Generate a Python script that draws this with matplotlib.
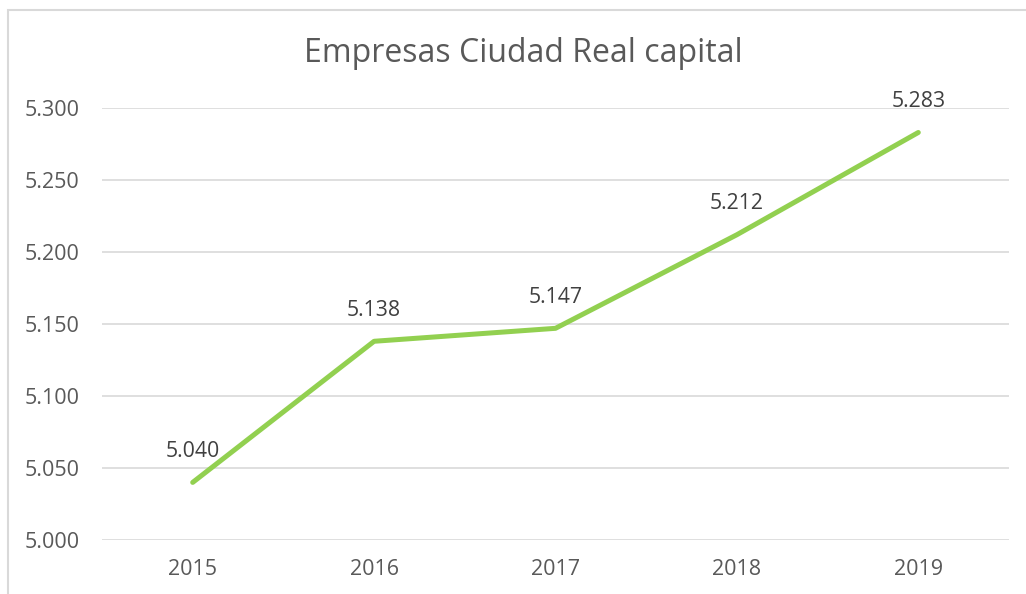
import matplotlib.pyplot as plt
from matplotlib.patches import Rectangle

years = ['2015', '2016', '2017', '2018', '2019']
empresas = [5040, 5138, 5147, 5212, 5283]
yticks = [5000, 5050, 5100, 5150, 5200, 5250, 5300]

def miles(v):
    return f'{v:,}'.replace(',', '.')

plt.rcParams['font.family'] = ['Open Sans', 'DejaVu Sans']

fig = plt.figure(figsize=(10.26, 5.94), dpi=100)
ax = fig.add_axes([102/1026, 1 - 540/594, (1009 - 102)/1026, (540 - 108)/594])

x = range(len(years))
ax.plot(x, empresas, color='#92D050', lw=3.6, solid_capstyle='round', zorder=3)
for i, v in zip(x, empresas):
    ax.annotate(miles(v), (i, v), xytext=(0, 22.5), textcoords='offset points',
                ha='center', va='center', fontsize=15.3, color='#404040')

ax.set_xlim(-0.5, len(years) - 0.5)
ax.set_ylim(5000, 5300)
ax.set_xticks(list(x))
ax.set_xticklabels(years)
ax.set_yticks(yticks)
ax.set_yticklabels([miles(v) for v in yticks])
ax.tick_params(length=0, labelsize=15.5, labelcolor='#595959')
ax.tick_params(axis='x', pad=14)
ax.tick_params(axis='y', pad=16)
ax.grid(axis='y', color='#d9d9d9', lw=1.2)
ax.set_axisbelow(True)
for s in ax.spines.values():
    s.set_visible(False)

fig.text(523/1026, 1 - 53/594, 'Empresas Ciudad Real capital', ha='center', va='center',
         fontsize=23, color='#595959')

fig.patches.append(Rectangle((8/1026, -0.1), 1.2, 1 - 10/594 + 0.1, transform=fig.transFigure,
                             fill=False, edgecolor='#d9d9d9', lw=1.5))

fig.savefig('out.png', dpi=100)
